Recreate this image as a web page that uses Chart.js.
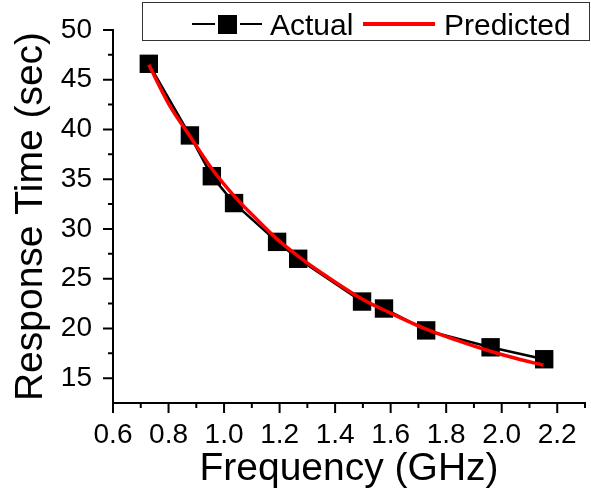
<!DOCTYPE html>
<html>
<head>
<meta charset="utf-8">
<script src="https://cdn.jsdelivr.net/npm/chart.js@4.4.0/dist/chart.umd.min.js"></script>
<style>
    html, body { margin: 0; padding: 0; background: #fff; }
    #wrap { width: 591px; height: 493px; }
</style>
</head>
<body>
<div id="wrap"><canvas id="chart" width="591" height="493"></canvas></div>
<script>
"use strict"

const freqActual = [0.729, 0.877, 0.956, 1.036, 1.191, 1.267, 1.497, 1.576, 1.728, 1.960, 2.153];
const timeActual = [46.6, 39.4, 35.3, 32.6, 28.7, 27.0, 22.7, 22.0, 19.8, 18.1, 16.9];

const freqPredicted = [0.729, 0.80, 0.88, 0.96, 1.04, 1.12, 1.19, 1.27, 1.35, 1.50, 1.58, 1.73, 1.85, 1.96, 2.05, 2.15];
const timePredicted = [46.5, 42.6, 39.2, 35.9, 33.2, 30.9, 29.0, 27.2, 25.6, 22.9, 21.8, 19.9, 18.7, 17.7, 17.0, 16.3];

const xMajorTicks = [0.6, 0.8, 1.0, 1.2, 1.4, 1.6, 1.8, 2.0, 2.2];
const xMinorTicks = [0.7, 0.9, 1.1, 1.3, 1.5, 1.7, 1.9, 2.1, 2.3];
const yMajorTicks = [15, 20, 25, 30, 35, 40, 45, 50];
const yMinorTicks = [17.5, 22.5, 27.5, 32.5, 37.5, 42.5, 47.5];

const seriesNames = ['Actual', 'Predicted'];

const fontFamily = '"Liberation Sans", Arial, sans-serif';


// ticks drawn by hand so that minor ticks can be shorter
const axisTicks =
{
    id: 'axisTicks',
    afterDraw(chart)
    {
        const ctx = chart.ctx;
        const x = chart.scales.x;
        const y = chart.scales.y;
        const area = chart.chartArea;

        ctx.save();
        ctx.strokeStyle = '#000';
        ctx.lineWidth = 2;
        ctx.beginPath();

        xMajorTicks.forEach(v => {
            const px = x.getPixelForValue(v);
            ctx.moveTo(px, area.bottom);
            ctx.lineTo(px, area.bottom + 10);
        });
        xMinorTicks.forEach(v => {
            const px = x.getPixelForValue(v);
            ctx.moveTo(px, area.bottom);
            ctx.lineTo(px, area.bottom + 5);
        });
        yMajorTicks.forEach(v => {
            const py = y.getPixelForValue(v);
            ctx.moveTo(area.left, py);
            ctx.lineTo(area.left - 10, py);
        });
        yMinorTicks.forEach(v => {
            const py = y.getPixelForValue(v);
            ctx.moveTo(area.left, py);
            ctx.lineTo(area.left - 5, py);
        });

        ctx.stroke();
        ctx.restore();
    }
};


// boxed legend at the top, drawn over the plot
const boxLegend =
{
    id: 'boxLegend',
    afterDraw(chart)
    {
        const ctx = chart.ctx;
        const lineY = 24;

        ctx.save();

        ctx.strokeStyle = '#333';
        ctx.lineWidth = 1;
        ctx.fillStyle = '#fff';
        ctx.fillRect(142, 2, 448, 39);
        ctx.strokeRect(142.5, 2.5, 447, 38);

        // actual: line - square - line
        ctx.strokeStyle = '#000';
        ctx.lineWidth = 2;
        ctx.beginPath();
        ctx.moveTo(192, lineY);
        ctx.lineTo(215, lineY);
        ctx.moveTo(240, lineY);
        ctx.lineTo(262, lineY);
        ctx.stroke();
        ctx.fillStyle = '#000';
        ctx.fillRect(218, lineY - 9, 19, 19);

        // predicted: red line
        ctx.strokeStyle = '#ff0000';
        ctx.lineWidth = 4;
        ctx.beginPath();
        ctx.moveTo(363, lineY);
        ctx.lineTo(435, lineY);
        ctx.stroke();

        ctx.fillStyle = '#000';
        ctx.font = '30px ' + fontFamily;
        ctx.textBaseline = 'alphabetic';
        ctx.textAlign = 'left';
        ctx.fillText(seriesNames[0], 270, 35);
        ctx.fillText(seriesNames[1], 444, 35);

        ctx.restore();
    }
};


// drop the room Chart.js keeps for overhanging tick labels
function noLabelPadding(s)
{
    s.paddingTop = 0;
    s.paddingBottom = 0;
    s.paddingLeft = 0;
    s.paddingRight = 0;
}


window.onload = () =>
{
    const data =
    {
        datasets: [{
                    label: seriesNames[1],
                    data: freqPredicted.map((f, i) => ({ x: f, y: timePredicted[i] })),
                    borderColor: '#ff0000',
                    backgroundColor: '#ff0000',
                    borderWidth: 3.5,
                    pointRadius: 0,
                    cubicInterpolationMode: 'monotone',
                    order: 0
                   },
                   {
                    label: seriesNames[0],
                    data: freqActual.map((f, i) => ({ x: f, y: timeActual[i] })),
                    borderColor: '#000',
                    backgroundColor: '#000',
                    borderWidth: 2.5,
                    pointStyle: 'rect',
                    pointRadius: 13,
                    pointBorderWidth: 0,
                    order: 1
                   }]
    };

    const config =
    {
        type: 'scatter',
        data: data,
        options:
        {
            responsive: false,
            animation: false,
            showLine: true,
            layout:
            {
                autoPadding: false,
                padding: { top: 30, right: 6, left: 0, bottom: 0 }
            },
            plugins:
            {
                legend: { display: false },
                tooltip: { enabled: false }
            },
            scales:
            {
                x:
                {
                    type: 'linear',
                    min: 0.6,
                    max: 2.3,
                    afterBuildTicks: s => { s.ticks = xMajorTicks.map(v => ({ value: v })); },
                    afterFit: s => { s.height = 90; noLabelPadding(s); },
                    grid: { display: true, drawOnChartArea: false, drawTicks: false },
                    border: { display: true, color: '#000', width: 2 },
                    ticks:
                    {
                        color: '#000',
                        padding: 15,
                        maxRotation: 0,
                        autoSkip: false,
                        font: { family: fontFamily, size: 28 },
                        callback: v => v.toFixed(1)
                    },
                    title:
                    {
                        display: true,
                        text: 'Frequency (GHz)',
                        color: '#000',
                        padding: { top: -4, bottom: 0 },
                        font: { family: fontFamily, size: 39 }
                    }
                },
                y:
                {
                    type: 'linear',
                    min: 12.5,
                    max: 50,
                    afterBuildTicks: s => { s.ticks = yMajorTicks.map(v => ({ value: v })); },
                    afterFit: s => { s.width = 113; noLabelPadding(s); },
                    grid: { display: true, drawOnChartArea: false, drawTicks: false },
                    border: { display: true, color: '#000', width: 2 },
                    ticks:
                    {
                        color: '#000',
                        padding: 21,
                        autoSkip: false,
                        font: { family: fontFamily, size: 28 }
                    },
                    title:
                    {
                        display: true,
                        text: 'Response Time (sec)',
                        color: '#000',
                        padding: { top: 8, bottom: 0 },
                        font: { family: fontFamily, size: 39 }
                    }
                }
            }
        },
        plugins: [axisTicks, boxLegend]
    };

    new Chart(document.getElementById('chart').getContext('2d'), config);
}
</script>
</body>
</html>
